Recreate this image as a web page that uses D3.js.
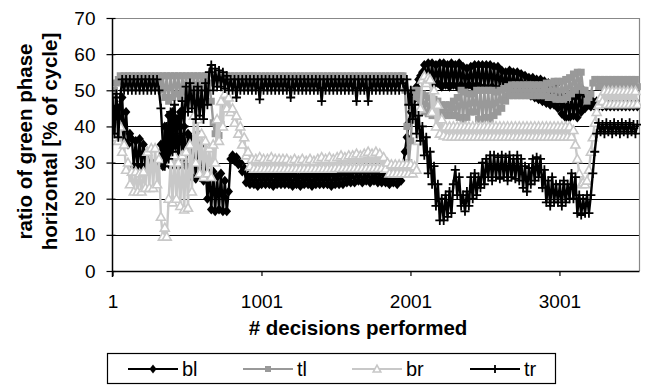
<!DOCTYPE html>
<html>
<head>
<meta charset="utf-8">
<script src="https://cdn.jsdelivr.net/npm/d3@7"></script>
<style>
  body { margin: 0; background: #fff; }
  svg { display: block; font-family: "Liberation Sans", Arial, sans-serif; }
</style>
</head>
<body>
<svg id="chart" width="646" height="385"></svg>
<script>
// One sample every 13 decisions, starting at decision 1.
const sampleStep = 13;

const bl = [
  40, 47, 37, 45, 38, 48, 36, 44, 35, 38,
  36.5, 29, 36, 28.5, 36.5, 29, 35, 28.5, 33, 28.5,
  30, 28.5, 30, 28.5, 30, 35, 29, 40, 30, 43,
  29, 44, 30, 42, 29, 44, 31, 40, 29, 38,
  37, 26, 36, 25.5, 38, 26, 35, 25, 29, 20,
  27, 17, 27.5, 16.5, 26, 17, 27, 16.5, 25, 16.5,
  22, 31, 32, 30.5, 31.5, 29.5, 30, 27.5, 28.5, 24.5,
  26.5, 24, 26.5, 24, 26.5, 23.5, 26.5, 24, 26.5, 24,
  26.5, 24, 26.5, 23.5, 26.5, 24, 26.5, 24, 26.5, 24,
  26.5, 24, 26.5, 23.5, 26.5, 24, 26, 23.5, 26.5, 24,
  26.5, 24, 26.5, 23.5, 26.5, 24, 26.5, 24, 26.5, 24,
  26.5, 24, 26.5, 23.5, 27, 24, 26.5, 24, 27, 24,
  27, 24.5, 27, 24.5, 27.5, 24.5, 27.5, 25, 27.5, 24.5,
  27.5, 25, 27.5, 24.5, 27.5, 25, 27.5, 24.5, 27, 24.5,
  27, 24.5, 27, 24, 27, 24.5, 27, 24, 27, 25,
  29, 33, 37, 41, 44, 47, 49, 51, 53, 54,
  55, 57, 53, 57.5, 52, 57.5, 51.5, 57, 52, 57.5,
  51, 57.5, 51.5, 57, 51, 57.5, 51.5, 57, 51, 57.5,
  51.5, 56.5, 51, 56, 51.5, 56.5, 51, 57, 51.5, 57,
  51, 57, 51, 57, 50.5, 57, 51, 56.5, 50.5, 56.5,
  50.5, 55.5, 50.5, 55, 50.5, 55.5, 50, 55, 50, 55,
  50, 54.5, 49.5, 54, 49, 53.5, 48.5, 53.5, 48, 53,
  47.5, 53, 47, 52.5, 46.5, 52, 46, 52, 46, 51.5,
  45, 49, 43.5, 48.5, 42.5, 48, 42.5, 48.5, 43, 48,
  42.5, 49, 44, 50, 45, 47, 46, 45.5, 47, 45.5,
  47, 45.5, 47, 45.5, 47, 45.5, 47, 45.5, 47, 45.5,
  47, 45.5, 47, 45.5, 47, 45.5, 47, 45.5, 47, 45.5,
  47, 45.5
];

const tl = [
  47, 50, 52, 53, 54, 52.5, 54, 52.5, 54, 52.5,
  54, 52.5, 54, 52.5, 54, 52.5, 54, 52.5, 54, 52.5,
  54, 52.5, 54, 52.5, 54, 50, 54, 48, 54, 47,
  54, 48, 54, 49, 54, 48, 54, 49.5, 54, 48.5,
  54, 49, 54, 49.5, 54, 50, 54, 50.5, 54, 51,
  52, 47, 41, 38, 40, 37.5, 40.5, 47, 53, 54,
  52.5, 54, 52.5, 54, 52.5, 54, 52.5, 54, 52.5, 54,
  52.5, 54, 52.5, 54, 52.5, 54, 52.5, 54, 52.5, 54,
  52.5, 54, 52.5, 54, 52.5, 54, 52.5, 54, 52.5, 54,
  52.5, 54, 52.5, 54, 52.5, 54, 52.5, 54, 52.5, 54,
  52.5, 54, 52.5, 54, 52.5, 54, 52.5, 54, 52.5, 54,
  52.5, 54, 52.5, 54, 52.5, 54, 52.5, 54, 52.5, 54,
  52.5, 54, 52.5, 54, 52.5, 54, 52.5, 54, 52.5, 54,
  52.5, 54, 52.5, 54, 52.5, 54, 52.5, 54, 52.5, 54,
  52.5, 54, 52.5, 54, 52.5, 54, 52.5, 54, 52.5, 54,
  54, 50, 40, 30, 36, 45, 50, 48, 50, 47,
  49, 44, 48.5, 43.5, 48, 43, 47.5, 43, 47, 43,
  46, 43, 46, 43, 46, 43, 47, 43, 48, 42.5,
  50, 42, 49.5, 42.5, 49, 44, 49, 44, 50, 42,
  50, 42, 50, 42.5, 50, 42, 50, 43, 49.5, 44,
  50, 45, 50.5, 47, 51, 48.5, 51.5, 48.5, 51.5, 48.5,
  51.5, 48.5, 51.5, 48.5, 51.5, 48.5, 51.5, 48.5, 51.5, 48.5,
  51.5, 48.5, 51.5, 48.5, 52, 48, 52, 48, 52.5, 47.5,
  52.5, 47.5, 52.5, 47.5, 53, 48, 53.5, 49, 54.5, 50,
  55, 51, 55, 50, 50, 47, 48, 49, 52, 53,
  53, 51, 53, 51, 53, 51, 53, 51, 53, 51,
  53, 51, 53, 51, 53, 51, 53, 51, 53, 51,
  53, 51
];

const br = [
  43, 37, 42, 36, 40, 33, 35, 28, 30, 24,
  27.5, 22, 27.5, 22, 27, 22, 27.5, 23, 33, 23,
  34, 23, 34, 24, 31, 15, 9.5, 12, 9.5, 20,
  30, 19, 32, 20, 30, 18, 32, 17, 33, 17.5,
  35, 22, 43, 30, 42, 27, 38, 26, 36, 27,
  34, 26, 35, 30, 42, 36, 47, 40, 49, 45,
  48, 44, 45, 41, 43, 38, 40, 35, 37, 32,
  33, 29, 31, 28.3, 31, 28.3, 31.5, 28.3, 31, 28.3,
  31, 28.3, 31.5, 28.3, 31, 28.3, 31, 28.3, 31, 28.3,
  31, 28.3, 30.5, 28.3, 31, 28.3, 30.5, 28.3, 31, 28.3,
  30.5, 28.3, 31, 28.3, 30.5, 28.3, 31, 28.3, 31.5, 28.3,
  31, 28.3, 31.5, 28.3, 31, 28.5, 31.5, 28.5, 32, 28.5,
  31.5, 28.5, 32, 28.5, 32, 28.5, 32.5, 28.5, 32, 28.5,
  32.5, 28.5, 33, 28.5, 32.5, 28.5, 33, 28.5, 32.5, 28.5,
  31.5, 28.3, 30, 27, 29.5, 27, 29.5, 27, 29.5, 27,
  29.5, 27, 29.5, 27, 29.5, 27, 29, 28, 36, 45,
  53, 54, 52, 53.5, 53, 44, 50, 40, 46, 38,
  42, 37.5, 40, 37.2, 40, 37.2, 40, 37.2, 40, 37.2,
  40, 37.2, 40, 37.2, 40, 37.2, 40, 37.2, 40, 37.2,
  40, 37.2, 40, 37.2, 40, 37.2, 40, 37.2, 40, 37.2,
  40, 37.2, 40, 37.2, 40, 37.2, 40, 37.2, 40, 37.2,
  40, 37.2, 40, 37.2, 40, 37.2, 40, 37.2, 40, 37.2,
  40, 37.2, 40, 37.2, 40, 37.2, 40, 37.2, 40, 37.2,
  40, 37.2, 40, 37.2, 40, 37.2, 40, 37.2, 39, 35,
  31, 27, 24, 24.5, 24, 25, 28, 33, 37, 41,
  44, 46, 48, 47, 49.8, 46.2, 49.8, 46.2, 49.8, 46.2,
  49.8, 46.2, 49.8, 46.2, 49.8, 46.2, 49.8, 46.2, 49.8, 46.2,
  49.8, 46.2
];

const tr = [
  48, 38, 49, 37, 48, 53, 50, 53, 50, 53,
  50, 53, 50, 53, 50, 53, 50, 53, 50, 53,
  50, 53, 50, 53, 50, 45, 35, 29, 40, 31,
  44, 33, 46, 35, 43, 38, 47, 40, 51, 44,
  52, 45, 50, 42, 51, 43, 50, 42, 52, 46,
  55, 57, 50, 56, 51, 55.5, 51, 55, 50.5, 54,
  50, 53, 50, 53, 48, 53, 50, 53, 50, 53,
  50, 53, 50, 53, 50, 53, 47.5, 53, 50, 53,
  50, 53, 50, 53, 50, 53, 50, 53, 50, 53,
  50, 53, 48, 53, 50, 53, 50, 53, 50, 53,
  50, 53, 50, 53, 50, 53, 50, 53, 47, 53,
  50, 53, 50, 53, 50, 53, 50, 53, 50, 53,
  50, 53, 50, 53, 50, 53, 47, 53, 50, 53,
  50, 53, 47, 53, 50, 53, 50, 53, 50, 53,
  50, 53, 50, 53, 50, 53, 50, 53, 50, 53,
  52, 50, 53, 46, 50, 42, 46, 38, 43, 36,
  40, 32, 37, 27, 33, 24, 29, 18, 24, 14,
  20, 14, 21, 15, 22, 16, 24, 28, 21, 26,
  18, 21, 16.5, 22, 18, 26, 20, 27, 21, 26,
  23, 30, 24, 31, 26, 32, 25, 32, 26, 31.5,
  25.5, 32, 26, 31.5, 25, 32, 26, 31, 25.5, 32,
  25, 31, 23, 29, 22, 28.5, 24, 31, 25, 31.5,
  26, 31, 23, 28, 19, 25, 18, 26, 19, 24,
  19, 24, 18, 25, 19, 24, 20, 27, 20, 26,
  16, 21, 15.5, 20, 16, 21, 16, 21, 27, 33,
  38, 41, 38.5, 40.5, 38, 41, 38.5, 40.5, 38, 41,
  38.5, 40.5, 38, 41, 38.5, 40.5, 38, 41, 38.5, 40.5,
  38, 40.5
];

const seriesNames = ["bl", "tl", "br", "tr"];
const yTickValues = [0, 10, 20, 30, 40, 50, 60, 70];
const xTickValues = [1, 1001, 2001, 3001];
const yTitleLines = ["ratio of green phase", "horizontal [% of cycle]"];
const xTitle = "# decisions performed";

// Appearance of each series: line colour and marker glyph
const styles = {
  bl: { stroke: "#000", marker: "diamond" },
  tl: { stroke: "#999", marker: "square" },
  br: { stroke: "#c8c8c8", marker: "triangle" },
  tr: { stroke: "#000", marker: "plus" }
};
const seriesValues = { bl, tl, br, tr };

// Marker glyphs used in the plot and in the legend
const plotMarkers = {
  diamond: "M0,-5L4.3,0L0,5L-4.3,0Z",
  square: "M-3.5,-3.5H3.5V3.5H-3.5Z",
  triangle: "M0,-4.5L4.5,3.5L-4.5,3.5Z",
  plus: "M-4.5,0H4.5M0,-4.5V4.5"
};
const legendMarkers = {
  diamond: "M0,-4.5L3.5,0L0,4.5L-3.5,0Z",
  square: "M-3,-3H3V3H-3Z",
  triangle: "M0,-3.8L3.8,3L-3.8,3Z",
  plus: "M-4,0H4M0,-4V4"
};
function markerStyle(sel, type, color) {
  if (type === "diamond" || type === "square") sel.attr("fill", color).attr("stroke", "none");
  else if (type === "triangle") sel.attr("fill", "#fff").attr("stroke", color).attr("stroke-width", 1.6);
  else sel.attr("fill", "none").attr("stroke", color).attr("stroke-width", 1.8);
}

const svg = d3.select("#chart");
const plot = { left: 112.5, right: 639, top: 18, bottom: 271 };

const x = d3.scaleLinear().domain([1, 3535]).range([plot.left, plot.right]);
const y = d3.scaleLinear().domain([0, 70]).range([plot.bottom, plot.top]);

// Horizontal gridlines
svg.append("g").selectAll("line")
  .data(yTickValues.filter(v => v > 0 && v < 70))
  .join("line")
  .attr("x1", plot.left).attr("x2", plot.right)
  .attr("y1", d => Math.round(y(d)) + 0.5).attr("y2", d => Math.round(y(d)) + 0.5)
  .attr("stroke", "#000").attr("stroke-width", 1);

// Plot area border (top and right)
svg.append("path")
  .attr("d", `M${plot.left},${plot.top + 0.5}H${plot.right + 0.5}V${plot.bottom}`)
  .attr("fill", "none").attr("stroke", "#888").attr("stroke-width", 1.2);

// Series: line first, then its markers, drawn in legend order
const line = d3.line()
  .x((d, i) => x(1 + i * sampleStep))
  .y(d => y(d));

svg.append("clipPath").attr("id", "plotClip")
  .append("rect").attr("x", plot.left).attr("y", 0)
  .attr("width", plot.right - plot.left + 2).attr("height", plot.bottom + 6);

seriesNames.forEach(name => {
  const vals = seriesValues[name];
  const st = styles[name];
  const g = svg.append("g").attr("clip-path", "url(#plotClip)");
  g.append("path")
    .attr("d", line(vals))
    .attr("fill", "none")
    .attr("stroke", st.stroke)
    .attr("stroke-width", 2.4)
    .attr("stroke-linejoin", "round");
  g.selectAll("path.m")
    .data(vals)
    .join("path")
    .attr("class", "m")
    .attr("d", plotMarkers[st.marker])
    .attr("transform", (d, i) => `translate(${x(1 + i * sampleStep)},${y(d)})`)
    .call(markerStyle, st.marker, st.stroke);
});

// Y axis
const yAxis = d3.axisLeft(y).tickValues(yTickValues).tickSizeInner(6).tickSizeOuter(0).tickPadding(11);
const gy = svg.append("g").attr("transform", `translate(${plot.left},0)`).call(yAxis);
gy.select(".domain").remove();
gy.selectAll(".tick line").attr("x2", -6).attr("x1", 3).attr("stroke", "#000").attr("stroke-width", 1.2);
gy.selectAll(".tick text").attr("font-size", 19).attr("fill", "#000")
  .attr("font-family", "Liberation Sans, Arial, sans-serif");
svg.append("line")
  .attr("x1", plot.left).attr("x2", plot.left)
  .attr("y1", plot.top).attr("y2", plot.bottom + 6)
  .attr("stroke", "#000").attr("stroke-width", 1.5);

// X axis
const xAxis = d3.axisBottom(x).tickValues(xTickValues).tickFormat(d3.format("d"))
  .tickSizeInner(5).tickSizeOuter(0).tickPadding(19);
const gx = svg.append("g").attr("transform", `translate(0,${plot.bottom})`).call(xAxis);
gx.select(".domain").remove();
gx.selectAll(".tick line").attr("stroke", "#000").attr("stroke-width", 1.2);
gx.selectAll(".tick text").attr("font-size", 19).attr("fill", "#000")
  .attr("font-family", "Liberation Sans, Arial, sans-serif");
svg.append("line")
  .attr("x1", plot.left).attr("x2", plot.right + 0.5)
  .attr("y1", plot.bottom + 0.5).attr("y2", plot.bottom + 0.5)
  .attr("stroke", "#000").attr("stroke-width", 1.5);

// Axis titles
svg.append("text")
  .attr("x", 358).attr("y", 335)
  .attr("text-anchor", "middle")
  .attr("font-size", 20.5).attr("font-weight", "bold")
  .text(xTitle);

const yTitleX = [24, 49];
yTitleLines.forEach((t, i) => {
  svg.append("text")
    .attr("transform", `translate(${yTitleX[i]},${(plot.top + plot.bottom) / 2 - 3}) rotate(-90)`)
    .attr("text-anchor", "middle")
    .attr("dominant-baseline", "central")
    .attr("font-size", 20.5).attr("font-weight", "bold")
    .text(t);
});

// Legend
const legend = svg.append("g");
legend.append("rect")
  .attr("x", 107.5).attr("y", 353.5).attr("width", 448).attr("height", 30)
  .attr("fill", "#fff").attr("stroke", "#000").attr("stroke-width", 1.2);
const legendX = [128, 243, 352, 470];
const legendY = 369;
seriesNames.forEach((name, i) => {
  const st = styles[name];
  const x0 = legendX[i];
  legend.append("line")
    .attr("x1", x0).attr("x2", x0 + 50)
    .attr("y1", legendY).attr("y2", legendY)
    .attr("stroke", st.stroke).attr("stroke-width", 1.8);
  legend.append("path")
    .attr("d", legendMarkers[st.marker])
    .attr("transform", `translate(${x0 + 25},${legendY})`)
    .call(markerStyle, st.marker, st.stroke);
  legend.append("text")
    .attr("x", x0 + 54).attr("y", legendY + 7)
    .attr("font-size", 20)
    .text(name);
});
</script>
</body>
</html>
